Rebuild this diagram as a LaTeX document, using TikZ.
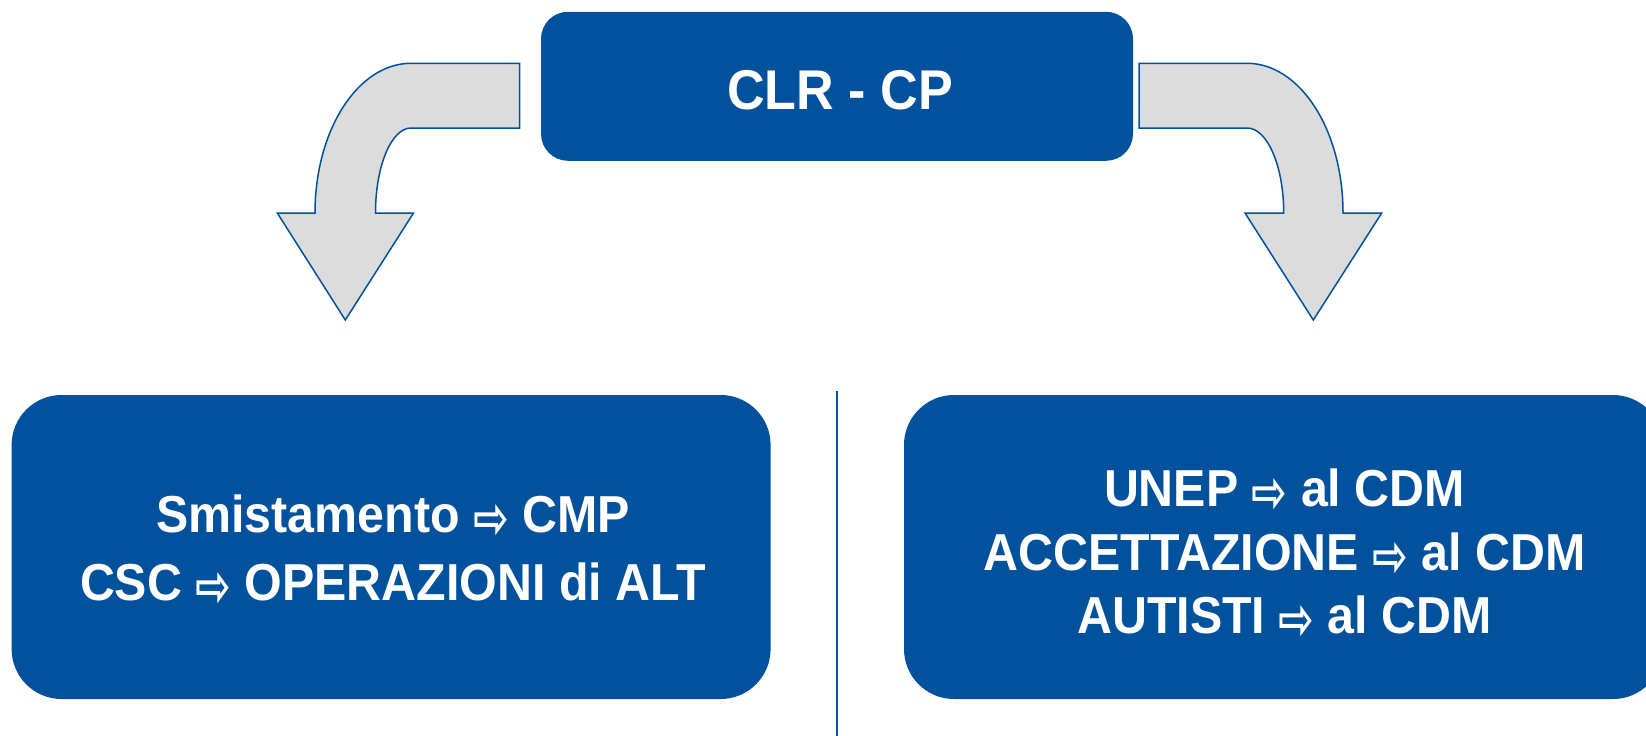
\documentclass[tikz,border=0pt]{standalone}
\usepackage{fontspec}
\setmainfont{Liberation Sans}[FakeStretch=0.93]
\newfontfamily\dejavu{DejaVu Sans}
\definecolor{boxblue}{RGB}{2,81,157}
\definecolor{arrowgray}{RGB}{220,220,220}
\newcommand\warr{\raisebox{-6pt}{\scalebox{0.95}[1.3]{\dejavu\fontsize{45}{45}\selectfont ⇨}}}
\begin{document}
\begin{tikzpicture}[x=1pt,y=-1pt,
  bluebox/.style={fill=boxblue,draw=none,inner sep=0pt,outer sep=0pt},
  blockarrow/.style={fill=arrowgray,draw=boxblue,line width=1.5pt,line join=miter},
  txt/.style={text=white,font=\bfseries\fontsize{52}{52}\selectfont,inner sep=0pt,anchor=base},
  toptxt/.style={text=white,font=\bfseries\fontsize{56}{56}\selectfont,inner sep=0pt,anchor=base}]
\useasboundingbox (0,0) rectangle (1646,736);
\fill[white] (0,0) rectangle (1646,736);

% boxes
\node[bluebox,rounded corners=27pt,minimum width=592pt,minimum height=149pt] (top) at (837,86.3) {};
\node[bluebox,rounded corners=50pt,minimum width=759pt,minimum height=304pt] (left) at (391.1,547) {};
\node[bluebox,rounded corners=50pt,minimum width=759pt,minimum height=304pt] (right) at (1283.5,547) {};

% block arrows
\draw[blockarrow] (519.7,63.3) -- (411,63.3)
  .. controls (358,63.3) and (315,130) .. (315,213)
  -- (277.3,213) -- (345.3,320) -- (413.5,213) -- (375.5,213)
  .. controls (375.5,166) and (391.4,128) .. (411,128)
  -- (519.7,128) -- cycle;
\draw[blockarrow] (1139,63.3) -- (1247,63.3)
  .. controls (1300,63.3) and (1343,130) .. (1343,213)
  -- (1381.7,213) -- (1313.3,320) -- (1245,213) -- (1283.7,213)
  .. controls (1283.7,166) and (1267.3,128) .. (1247,128)
  -- (1139,128) -- cycle;

% divider
\coordinate (divtop) at (837,390.5);
\coordinate (divbot) at (837,736);
\draw[boxblue,line width=1.5pt] (divtop) -- (divbot);

% texts
\node[toptxt] (ttop) at (840,109) {CLR - CP};
\node[txt] (l1) at (393,532) {Smistamento \warr{} CMP};
\node[txt] (l2) at (393,600) {CSC \warr{} OPERAZIONI di ALT};
\node[txt] (r1) at (1284.5,506) {UNEP \warr{} al CDM};
\node[txt] (r2) at (1284.5,570) {ACCETTAZIONE \warr{} al CDM};
\node[txt] (r3) at (1284.5,633) {AUTISTI \warr{} al CDM};
\end{tikzpicture}
\end{document}
